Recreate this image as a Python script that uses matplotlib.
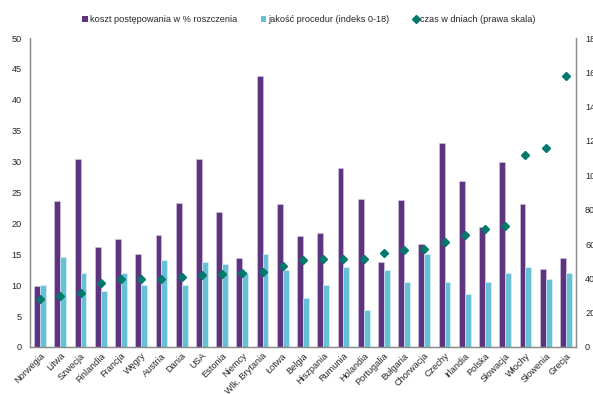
import matplotlib
matplotlib.use("Agg")
import matplotlib.pyplot as plt
from matplotlib.lines import Line2D
from matplotlib.patches import Patch
import numpy as np

plt.rcParams['font.family'] = ['Liberation Sans', 'DejaVu Sans']

countries = ["Norwegia", "Litwa", "Szwecja", "Finlandia", "Francja", "Węgry", "Austria",
             "Dania", "USA", "Estonia", "Niemcy", "Wlk. Brytania", "Łotwa", "Belgia",
             "Hiszpania", "Rumunia", "Holandia", "Portugalia", "Bułgaria", "Chorwacja",
             "Czechy", "Irlandia", "Polska", "Słowacja", "Włochy", "Słowenia", "Grecja"]

cost_pct = [9.9, 23.6, 30.4, 16.2, 17.4, 15.0, 18.2, 23.3, 30.5, 21.9, 14.4, 43.9, 23.1, 18.0,
            18.5, 28.9, 23.9, 13.8, 23.8, 16.7, 33.0, 26.9, 19.4, 30.0, 23.1, 12.7, 14.4]

quality_idx = [10, 14.5, 12, 9, 12, 10, 14, 10, 13.8, 13.5, 12, 15, 12.5, 8,
               10, 13, 6, 12.5, 10.5, 15, 10.5, 8.5, 10.5, 12, 13, 11, 12]

time_days = [280, 300, 314, 375, 395, 395, 397, 410, 420, 425, 429, 437, 469, 505,
             510, 512, 514, 547, 564, 572, 611, 650, 685, 705, 1120, 1160, 1580]

left_ticks = [0, 5, 10, 15, 20, 25, 30, 35, 40, 45, 50]
right_ticks = [0, 200, 400, 600, 800, 1000, 1200, 1400, 1600, 1800]

PURPLE = "#5E3380"
CYAN = "#67C0D6"
TEAL = "#00786C"
GREY = "#8C8C8C"
TXT = "#262626"
FS = 6.6

W, H = 593, 394
fig = plt.figure(figsize=(W / 100, H / 100), dpi=100)
ax = fig.add_axes([30 / W, 1 - 347 / H, (576 - 30) / W, (347 - 38) / H])

x = np.arange(len(countries))
bw = 0.29
ax.bar(x - bw / 2, cost_pct, width=bw, color=PURPLE, edgecolor="#D9CCE6", linewidth=0.4, zorder=2)
ax.bar(x + bw / 2, quality_idx, width=bw, color=CYAN, edgecolor="#E3F3F8", linewidth=0.4, zorder=2)

ax.set_xlim(-0.5, len(countries) - 0.5)
ax.set_ylim(0, 50)
ax.set_yticks(left_ticks)
ax.set_xticks(x)
ax.set_xticklabels(countries, rotation=45, ha="right", rotation_mode="anchor")
ax.tick_params(axis="both", length=0, labelsize=FS, colors=TXT)
ax.tick_params(axis="x", pad=3)
ax.tick_params(axis="y", pad=6)

ax2 = ax.twinx()
ax2.plot(x, time_days, linestyle="none", marker="D", markersize=4.3, color=TEAL, zorder=3)
ax2.set_ylim(0, 1800)
ax2.set_yticks(right_ticks)
ax2.tick_params(axis="y", length=0, labelsize=FS, colors=TXT, pad=6.5)

for a in (ax, ax2):
    a.spines["top"].set_visible(False)
    for s in ("left", "right", "bottom"):
        a.spines[s].set_color(GREY)
        a.spines[s].set_linewidth(0.9)

handles = [
    Patch(facecolor=PURPLE, edgecolor="none"),
    Patch(facecolor=CYAN, edgecolor="none"),
    Line2D([], [], linestyle="none", marker="D", markersize=4, color=TEAL),
]
labels = ["koszt postępowania w % roszczenia", "jakość procedur (indeks 0-18)",
          "czas w dniach (prawa skala)"]
fig.legend(handles, labels, loc="center", bbox_to_anchor=(309 / W, 1 - 20 / H), ncol=3,
           frameon=False, fontsize=FS, handlelength=0.6, handleheight=0.6,
           handletextpad=0.2, columnspacing=2.6, labelcolor=TXT)

fig.savefig("out.png", dpi=100)
